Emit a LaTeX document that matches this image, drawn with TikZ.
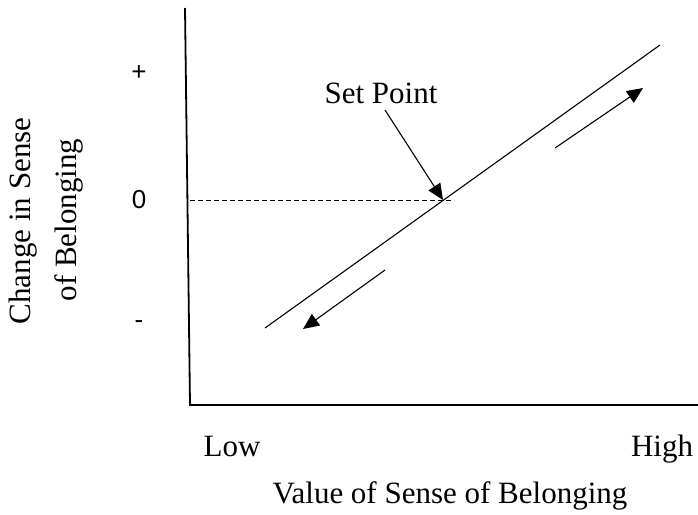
\documentclass[tikz,border=0pt]{standalone}
\usepackage{fontspec}
\setmainfont{Liberation Serif}
\newfontfamily\axisfont{Liberation Sans}
\usetikzlibrary{arrows.meta,positioning}

\begin{document}
\begin{tikzpicture}[
  x=1pt, y=-1pt,
  lbl/.style={font=\fontsize{31}{35}\selectfont, inner sep=0pt, anchor=base},
  tick/.style={font=\axisfont\fontsize{26}{30}\selectfont, inner sep=0pt},
  axis/.style={line width=1.8pt},
  curve/.style={line width=1.1pt},
  arr/.style={line width=1.1pt, -{Triangle[length=16pt,width=14pt]}},
  zeroline/.style={line width=0.9pt, dash pattern=on 5pt off 3pt}
]
  \useasboundingbox (0,0) rectangle (698,514);

  %% Axes
  \coordinate (ytop) at (185,8);
  \coordinate (orig) at (190,405);
  \coordinate (xend) at (698,405);
  \draw[axis] (ytop) -- (orig) -- (xend);

  %% Tick labels
  \node[tick] (plus)  at (139,73)  {+};
  \node[tick] (zero)  at (139,200) {0};
  \node[tick] (minus) at (139,325) {-};

  \node[lbl] (low)  at (232,456) {Low};
  \node[lbl] (high) at (662,456) {High};

  %% Axis titles
  \node[lbl, rotate=90] (ytitle) at (30,221) {Change in Sense};
  \node[lbl, rotate=90] (ytitle2) at (76,220) {of Belonging};
  \node[lbl] (xtitle) at (450,503) {Value of Sense of Belonging};

  %% Zero line and response line
  \coordinate (z0) at (190,200);
  \coordinate (sp) at (443,200);
  \coordinate (z1) at (453,200);
  \draw[zeroline] (z0) -- (z1);

  \coordinate (lstart) at (265,328);
  \coordinate (lend) at (660,45);
  \draw[curve] (lstart) -- (lend);

  %% Direction arrows
  \coordinate (upA) at (555,148);
  \coordinate (upB) at (643,88);
  \draw[arr] (upA) -- (upB);
  \coordinate (dnA) at (385,270);
  \coordinate (dnB) at (303,329);
  \draw[arr] (dnA) -- (dnB);

  %% Set point
  \node[lbl] (setpt) at (381,103) {Set Point};
  \coordinate (spfrom) at (385,110);
  \draw[arr] (spfrom) -- (sp);
\end{tikzpicture}
\end{document}
